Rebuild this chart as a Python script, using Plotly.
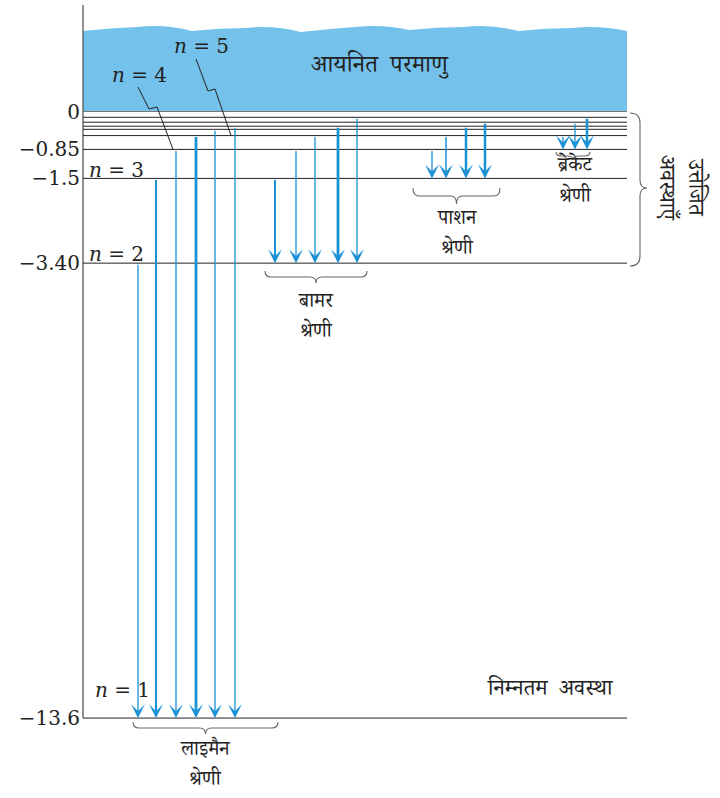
import plotly.graph_objects as go

# ---------------- data ----------------
level_n = [1, 2, 3, 4, 5, 6, 7, 8, 9]
level_energy = [-13.6, -3.40, -1.5, -0.85, -0.54, -0.40, -0.33, -0.24, -0.13]  # eV
tick_vals = [0, -0.85, -1.5, -3.40, -13.6]
tick_text = ["0", "−0.85", "−1.5", "−3.40", "−13.6"]

lyman_upper = [2, 3, 4, 5, 6, 7]
balmer_upper = [3, 4, 5, 7, 9]
paschen_upper = [4, 5, 7, 8]
brackett_upper = [5, 8, 9]

series_names = ["लाइमैन", "बामर", "पाशन", "ब्रेकेट"]
series_word = "श्रेणी"
ionized_text = "आयनित  परमाणु"
ground_text = "निम्नतम  अवस्था"
excited_text = "उत्तेजित<br>अवस्थाएँ"

# ---------------- layout constants ----------------
W, H = 720, 798
Y0, SCALE = 111.5, 44.6          # pixel of 0 eV, px per eV
AX_X, RIGHT_X = 83, 627
BLUE = "#74c2ec"
ARROW = "#1b91d6"
DEV = "Noto Serif Devanagari, Noto Sans Devanagari, Lohit Devanagari, Noto Sans, serif"
SERIF = "DejaVu Serif, serif"


def e_of(py):
    return (Y0 - py) / SCALE


def E(n):
    return level_energy[level_n.index(n)]


fig = go.Figure()

# ionised region (blue with wavy top)
wave_top = [31, 27, 31, 28, 32, 27, 30, 27, 31, 28]
seg = (RIGHT_X - AX_X) / len(wave_top)
path = f"M {AX_X},{e_of(Y0)} L {AX_X},{e_of(wave_top[0])}"
for i, wy in enumerate(wave_top):
    x1 = AX_X + seg * (i + 1)
    xm = AX_X + seg * (i + 0.5)
    nxt = wave_top[(i + 1) % len(wave_top)]
    path += f" Q {xm},{e_of(wy - 3)} {x1},{e_of(nxt)}"
path += f" L {RIGHT_X},{e_of(Y0)} Z"
fig.add_shape(type="path", path=path, xref="x", yref="y",
              fillcolor=BLUE, line=dict(width=0), layer="below")

# vertical axis line
fig.add_trace(go.Scatter(x=[AX_X, AX_X], y=[e_of(5), E(1)], mode="lines",
                         line=dict(color="#555", width=1.3), hoverinfo="skip"))

# energy levels
lx, ly = [], []
for en in level_energy:
    lx += [AX_X, RIGHT_X, None]
    ly += [en, en, None]
fig.add_trace(go.Scatter(x=lx, y=ly, mode="lines",
                         line=dict(color="#222", width=1), hoverinfo="skip"))
fig.add_trace(go.Scatter(x=[AX_X, RIGHT_X], y=[0, 0], mode="lines",
                         line=dict(color="#777", width=1.2), hoverinfo="skip"))

# transitions
series = [
    (lyman_upper, 1, [138, 156, 176, 196, 215, 235], [1.3, 2, 1.3, 2.8, 1.3, 1.3]),
    (balmer_upper, 2, [275, 296, 315, 338, 357], [2, 1.3, 1.3, 2.8, 1.3]),
    (paschen_upper, 3, [432, 446, 466, 485], [1.3, 1.5, 2.5, 2.5]),
    (brackett_upper, 4, [563, 575, 587], [1.3, 1.3, 2.5]),
]
for uppers, lower, xs, ws in series:
    for up, x, w in zip(uppers, xs, ws):
        fig.add_annotation(x=x, y=E(lower), ax=x, ay=E(up), xref="x", yref="y",
                           axref="x", ayref="y", text="", showarrow=True,
                           arrowhead=3, arrowwidth=w, arrowsize=2.3 / w,
                           arrowcolor=ARROW, standoff=0)

# braces
def brace(x0, x1, ytop, ytip):
    xc = (x0 + x1) / 2
    ym = (ytop + ytip) / 2
    r = 6
    p = (f"M {x0},{e_of(ytop)} Q {x0},{e_of(ym)} {x0 + r},{e_of(ym)} "
         f"L {xc - r},{e_of(ym)} Q {xc},{e_of(ym)} {xc},{e_of(ytip)} "
         f"Q {xc},{e_of(ym)} {xc + r},{e_of(ym)} L {x1 - r},{e_of(ym)} "
         f"Q {x1},{e_of(ym)} {x1},{e_of(ytop)}")
    fig.add_shape(type="path", path=p, xref="x", yref="y",
                  line=dict(color="#666", width=1.1))

brace(133, 278, 722, 734)
brace(265, 367, 271, 283)
brace(413, 500, 188, 204)
brace(556, 590, 152, 160)

# right vertical brace
yb0, yb1, ybm = 113, 266, 188
p = (f"M 630,{e_of(yb0)} Q 640,{e_of(yb0)} 640,{e_of(yb0 + 10)} "
     f"L 640,{e_of(ybm - 8)} Q 640,{e_of(ybm)} 647,{e_of(ybm)} "
     f"Q 640,{e_of(ybm)} 640,{e_of(ybm + 8)} L 640,{e_of(yb1 - 10)} "
     f"Q 640,{e_of(yb1)} 630,{e_of(yb1)}")
fig.add_shape(type="path", path=p, xref="x", yref="y",
              line=dict(color="#666", width=1.1))

# leader lines for n=4 and n=5
for n, pts in [(4, [(138, 87), (149, 109), (157, 107)]),
               (5, [(196, 59), (208, 91), (215, 89)])]:
    xs_ = [p_[0] for p_ in pts] + [pts[-1][0] + 16]
    ys_ = [e_of(p_[1]) for p_ in pts] + [E(n)]
    fig.add_trace(go.Scatter(x=xs_, y=ys_, mode="lines",
                             line=dict(color="#222", width=1), hoverinfo="skip"))

# n labels
def txt(x, y, s, size=20, font=SERIF, **kw):
    fig.add_annotation(x=x, y=e_of(y), xref="x", yref="y", text=s, showarrow=False,
                       font=dict(family=font, size=size, color="#222"), **kw)

txt(139, 75, "<i>n</i> = 4")
txt(201, 46, "<i>n</i> = 5")
txt(116, 170, "<i>n</i> = 3")
txt(116, 254, "<i>n</i> = 2")
txt(122, 690, "<i>n</i> = 1")

# texts
txt(380, 68, ionized_text, size=24, font=DEV)
txt(550, 692, ground_text, size=22, font=DEV)
label_pos = [(205, 752, 782), (316, 304, 334), (457, 221, 251), (575, 168, 199)]
for name, (x, y1, y2) in zip(series_names, label_pos):
    txt(x, y1, name, size=20, font=DEV)
    txt(x, y2, series_word, size=20, font=DEV)
txt(678, 188, excited_text, size=22, font=DEV, textangle=90)

fig.update_layout(
    width=W, height=H, margin=dict(l=0, r=0, t=0, b=0),
    paper_bgcolor="white", plot_bgcolor="white", showlegend=False,
    xaxis=dict(range=[0, W], visible=False),
    yaxis=dict(range=[e_of(H), e_of(0)], anchor="free", position=AX_X / W,
               showline=False, showgrid=False, zeroline=False,
               tickvals=tick_vals, ticktext=tick_text, ticks="",
               ticklabelstandoff=3,
               tickfont=dict(family=SERIF, size=20, color="#222")),
)

fig.write_html("out.html", config={"displayModeBar": False},
               post_script="document.body.style.margin='0';document.body.style.overflow='hidden';")
